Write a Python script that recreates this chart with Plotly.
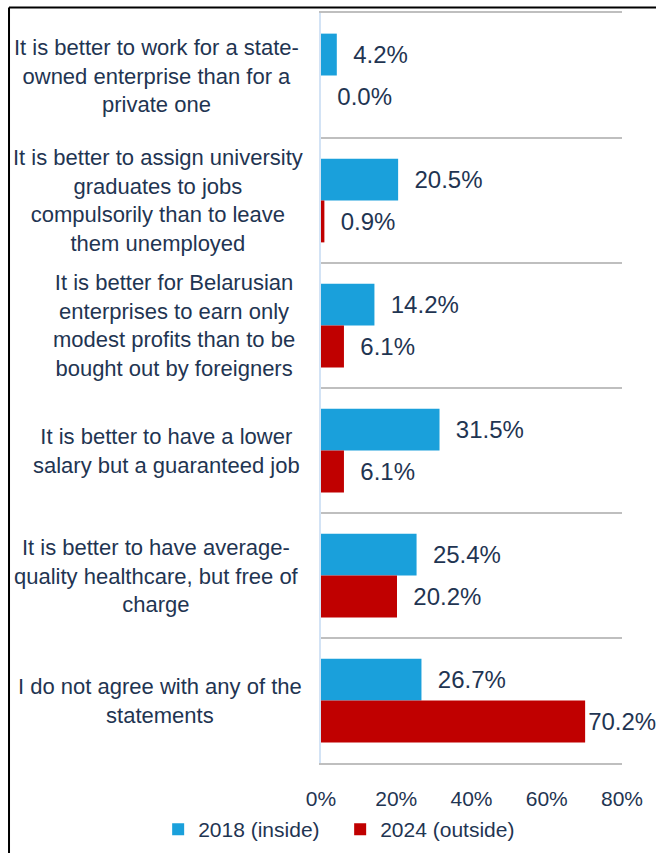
import plotly.graph_objects as go

categories = [
    "It is better to work for a state-<br>owned enterprise than for a<br>private one",
    "It is better to assign university<br>graduates to jobs<br>compulsorily than to leave<br>them unemployed",
    "It is better for Belarusian<br>enterprises to earn only<br>modest profits than to be<br>bought out by foreigners",
    "It is better to have a lower<br>salary but a guaranteed job",
    "It is better to have average-<br>quality healthcare, but free of<br>charge",
    "I do not agree with any of the<br>statements",
]
series_names = ["2018 (inside)", "2024 (outside)"]
values_2018 = [4.2, 20.5, 14.2, 31.5, 25.4, 26.7]
values_2024 = [0.0, 0.9, 6.1, 6.1, 20.2, 70.2]
tick_vals = [0, 20, 40, 60, 80]
tick_text = ["0%", "20%", "40%", "60%", "80%"]

# horizontal centre of each category label block (paper units, left of plot)
label_x = [-0.548, -0.54, -0.488, -0.512, -0.548, -0.535]

TEXT = "#1F3552"
BLUE = "#1AA0DB"
RED = "#C00000"
NB = "\u00a0\u00a0"

fig = go.Figure()
fig.add_trace(go.Bar(
    name=series_names[0], y=categories, x=values_2018, orientation="h",
    marker=dict(color=BLUE, line=dict(width=0)),
    texttemplate=NB + "%{x:.1f}%", textposition="outside", cliponaxis=False,
    constraintext="none",
    textfont=dict(family="Liberation Sans, Arial", size=24, color=TEXT),
))
fig.add_trace(go.Bar(
    name=series_names[1], y=categories, x=values_2024, orientation="h",
    marker=dict(color=RED, line=dict(width=0)),
    texttemplate=[NB + "%{x:.1f}%"] * (len(values_2024) - 1) + ["%{x:.1f}%"],
    textposition="outside", cliponaxis=False, constraintext="none",
    textfont=dict(family="Liberation Sans, Arial", size=24, color=TEXT),
))

annotations = []
for c, lx in zip(categories, label_x):
    annotations.append(dict(
        x=lx, xref="paper", y=c, yref="y", text=c, showarrow=False,
        xanchor="center", yanchor="middle", align="center",
        font=dict(family="Liberation Sans, Arial", size=22, color=TEXT),
    ))

shapes = [
    dict(type="line", xref="paper", yref="paper", x0=-1.0365, x1=1.2, y0=1.0073, y1=1.0073,
         line=dict(color="black", width=2)),
    dict(type="line", xref="paper", yref="paper", x0=-1.0365, x1=-1.0365, y0=1.0073, y1=-0.2,
         line=dict(color="black", width=2)),
]

fig.update_layout(
    width=656, height=853,
    margin=dict(l=321, r=34, t=13, b=90, autoexpand=False),
    paper_bgcolor="white", plot_bgcolor="white",
    barmode="group", bargap=0.33, bargroupgap=0,
    font=dict(family="Liberation Sans, Arial", color=TEXT),
    xaxis=dict(range=[0, 80], tickvals=tick_vals, ticktext=tick_text,
               showgrid=False, zeroline=False, showline=True, mirror=True,
               linecolor="#BFBFBF", linewidth=2, ticks="",
               ticklabelstandoff=16,
               tickfont=dict(family="Liberation Sans, Arial", size=21, color=TEXT)),
    yaxis=dict(type="category", categoryorder="array", categoryarray=categories,
               autorange="reversed", tickson="boundaries", showgrid=True,
               gridcolor="#BFBFBF", gridwidth=2, showticklabels=False, ticks="",
               showline=True, linecolor="#D3E3F5", linewidth=2, zeroline=False),
    legend=dict(orientation="h", x=-0.541, xanchor="left", y=-0.0887, yanchor="middle",
                font=dict(family="Liberation Sans, Arial", size=21, color=TEXT),
                traceorder="normal", entrywidth=137, entrywidthmode="pixels"),
    annotations=annotations,
    shapes=shapes,
)

fig.write_html("out.html")
